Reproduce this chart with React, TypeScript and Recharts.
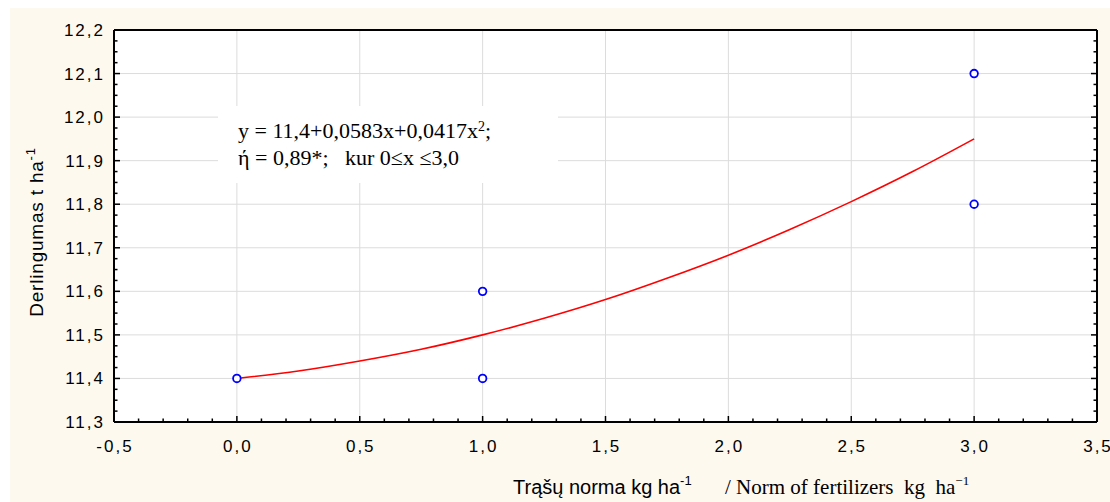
import React from "react";
import {
  ComposedChart,
  Line,
  Scatter,
  XAxis,
  YAxis,
  ReferenceLine,
  CartesianGrid,
} from "recharts";

// axis ticks
const X_MAJOR = [-0.5, 0, 0.5, 1, 1.5, 2, 2.5, 3, 3.5];
const Y_MAJOR = [11.3, 11.4, 11.5, 11.6, 11.7, 11.8, 11.9, 12.0, 12.1, 12.2];
const X_MINOR_STEP = 0.1;
const Y_MINOR_STEP = 0.025;

// fitted curve
const fitX = [0, 0.25, 0.5, 0.75, 1.0, 1.25, 1.5, 1.75, 2.0, 2.25, 2.5, 2.75, 3.0];
const fitY = [11.4, 11.417, 11.44, 11.467, 11.5, 11.538, 11.581, 11.63, 11.683, 11.742, 11.806, 11.875, 11.95];

// observed points
const obsX = [0, 1, 1, 3, 3];
const obsY = [11.4, 11.6, 11.4, 12.1, 11.8];

const fitData = fitX.map((x, i) => ({ x, y: fitY[i] }));
const obsData = obsX.map((x, i) => ({ x, y: obsY[i] }));

const steps = (from: number, to: number, step: number) => {
  const out: number[] = [];
  const n = Math.round((to - from) / step);
  for (let i = 0; i <= n; i++) out.push(+(from + i * step).toFixed(4));
  return out;
};
const xTicks = steps(-0.5, 3.5, X_MINOR_STEP);
const yTicks = steps(11.3, 12.2, Y_MINOR_STEP);

const isMajor = (v: number, list: number[]) => list.some((m) => Math.abs(m - v) < 1e-6);
const fmt = (v: number) => v.toFixed(1).replace(".", ",");

const SANS = "'Liberation Sans', Arial, sans-serif";
const SERIF = "'Liberation Serif', 'Times New Roman', serif";
const tickText = { fontFamily: SANS, fontSize: 17, letterSpacing: 2, fill: "#000" };

const MAJOR_LEN = 6;
const MINOR_LEN = 3.5;

const BottomTick = (props: any) => {
  const { x, y, payload } = props;
  const major = isMajor(payload.value, X_MAJOR);
  return (
    <g>
      <line x1={x} x2={x} y1={y} y2={y - (major ? MAJOR_LEN : MINOR_LEN)} stroke="#000" strokeWidth={1.5} />
      {major && (
        <text x={x + 1} y={y + 30} textAnchor="middle" style={tickText}>
          {fmt(payload.value)}
        </text>
      )}
    </g>
  );
};

const TopTick = (props: any) => {
  const { x, y, payload } = props;
  const major = isMajor(payload.value, X_MAJOR);
  return <line x1={x} x2={x} y1={y} y2={y + (major ? MAJOR_LEN : MINOR_LEN)} stroke="#000" strokeWidth={1.5} />;
};

const LeftTick = (props: any) => {
  const { x, y, payload } = props;
  const major = isMajor(payload.value, Y_MAJOR);
  return (
    <g>
      <line x1={x} x2={x + (major ? MAJOR_LEN : MINOR_LEN)} y1={y} y2={y} stroke="#000" strokeWidth={1.5} />
      {major && (
        <text x={x - 9} y={y + 6} textAnchor="end" style={tickText}>
          {fmt(payload.value)}
        </text>
      )}
    </g>
  );
};

const RightTick = (props: any) => {
  const { x, y, payload } = props;
  const major = isMajor(payload.value, Y_MAJOR);
  return <line x1={x} x2={x - (major ? MAJOR_LEN : MINOR_LEN)} y1={y} y2={y} stroke="#000" strokeWidth={1.5} />;
};

const XTitle = () => (
  <g>
    <text x={513} y={494} style={{ fontFamily: SANS, fontSize: 20, fill: "#000" }}>
      Trąšų norma kg ha
      <tspan dy={-9} fontSize={13}>-1</tspan>
    </text>
    <text x={725} y={494} style={{ fontFamily: SERIF, fontSize: 21, fill: "#000", whiteSpace: "pre" }}>
      {"/ Norm of fertilizers  kg  ha"}
      <tspan dy={-9} fontSize={13}>−1</tspan>
    </text>
  </g>
);

const YTitle = () => (
  <text
    transform="translate(43,232) rotate(-90)"
    textAnchor="middle"
    style={{ fontFamily: SANS, fontSize: 19, letterSpacing: 0.8, fill: "#000" }}
  >
    Derlingumas t ha
    <tspan dy={-8} fontSize={13}>-1</tspan>
  </text>
);

const axisLine = { stroke: "#000", strokeWidth: 2 };

export default function App() {
  return (
    <div style={{ position: "absolute", left: 0, top: 0, width: 1110, height: 502, background: "#fff" }}>
      <div style={{ position: "absolute", left: 10, top: 8, width: 1100, height: 494, background: "#fdf9ef" }} />
      <div style={{ position: "absolute", left: 0, top: 0 }}>
        <ComposedChart width={1110} height={502} margin={{ top: 29, right: 12, bottom: 0, left: 0 }}>
          <CartesianGrid horizontal={false} vertical={false} fill="#fff" />
          {X_MAJOR.slice(1, -1).map((v) => (
            <ReferenceLine key={`gx${v}`} x={v} stroke="#dcdcdc" strokeWidth={1} />
          ))}
          {Y_MAJOR.slice(1, -1).map((v) => (
            <ReferenceLine key={`gy${v}`} y={v} stroke="#dcdcdc" strokeWidth={1} />
          ))}
          <XAxis
            xAxisId={0}
            dataKey="x"
            type="number"
            domain={[-0.5, 3.5]}
            allowDataOverflow
            ticks={xTicks}
            interval={0}
            tick={<BottomTick />}
            tickLine={false}
            tickSize={0}
            tickMargin={0}
            axisLine={axisLine}
            height={80}
            label={{ content: XTitle }}
          />
          <XAxis
            xAxisId="top"
            orientation="top"
            type="number"
            domain={[-0.5, 3.5]}
            allowDataOverflow
            ticks={xTicks}
            interval={0}
            tick={<TopTick />}
            tickLine={false}
            tickSize={0}
            tickMargin={0}
            axisLine={axisLine}
            height={1}
          />
          <YAxis
            yAxisId={0}
            type="number"
            domain={[11.3, 12.2]}
            allowDataOverflow
            ticks={yTicks}
            interval={0}
            tick={<LeftTick />}
            tickLine={false}
            tickSize={0}
            tickMargin={0}
            axisLine={axisLine}
            width={114}
            label={{ content: YTitle }}
          />
          <YAxis
            yAxisId="right"
            orientation="right"
            type="number"
            domain={[11.3, 12.2]}
            allowDataOverflow
            ticks={yTicks}
            interval={0}
            tick={<RightTick />}
            tickLine={false}
            tickSize={0}
            tickMargin={0}
            axisLine={axisLine}
            width={1}
          />
          <Line
            data={fitData}
            dataKey="y"
            type="monotone"
            stroke="#ff0000"
            strokeWidth={1.6}
            dot={false}
            activeDot={false}
            isAnimationActive={false}
          />
          <Scatter
            data={obsData}
            dataKey="y"
            isAnimationActive={false}
            shape={(p: any) => (
              <circle cx={p.cx} cy={p.cy} r={3.8} fill="#fff" stroke="#0000ff" strokeWidth={1.8} />
            )}
          />
        </ComposedChart>
      </div>
      <div
        style={{
          position: "absolute",
          left: 218,
          top: 106,
          width: 340,
          height: 77,
          background: "#fff",
          boxSizing: "border-box",
          paddingLeft: 20,
          paddingTop: 11,
          fontFamily: SERIF,
          fontSize: 22,
          lineHeight: "27px",
          color: "#000",
          whiteSpace: "pre",
        }}
      >
        <div>
          y = 11,4+0,0583x+0,0417x
          <span style={{ fontSize: 14, verticalAlign: "top", lineHeight: "16px", position: "relative", top: 2 }}>2</span>;
        </div>
        <div>{"ή = 0,89*;   kur 0≤x ≤3,0"}</div>
      </div>
    </div>
  );
}
